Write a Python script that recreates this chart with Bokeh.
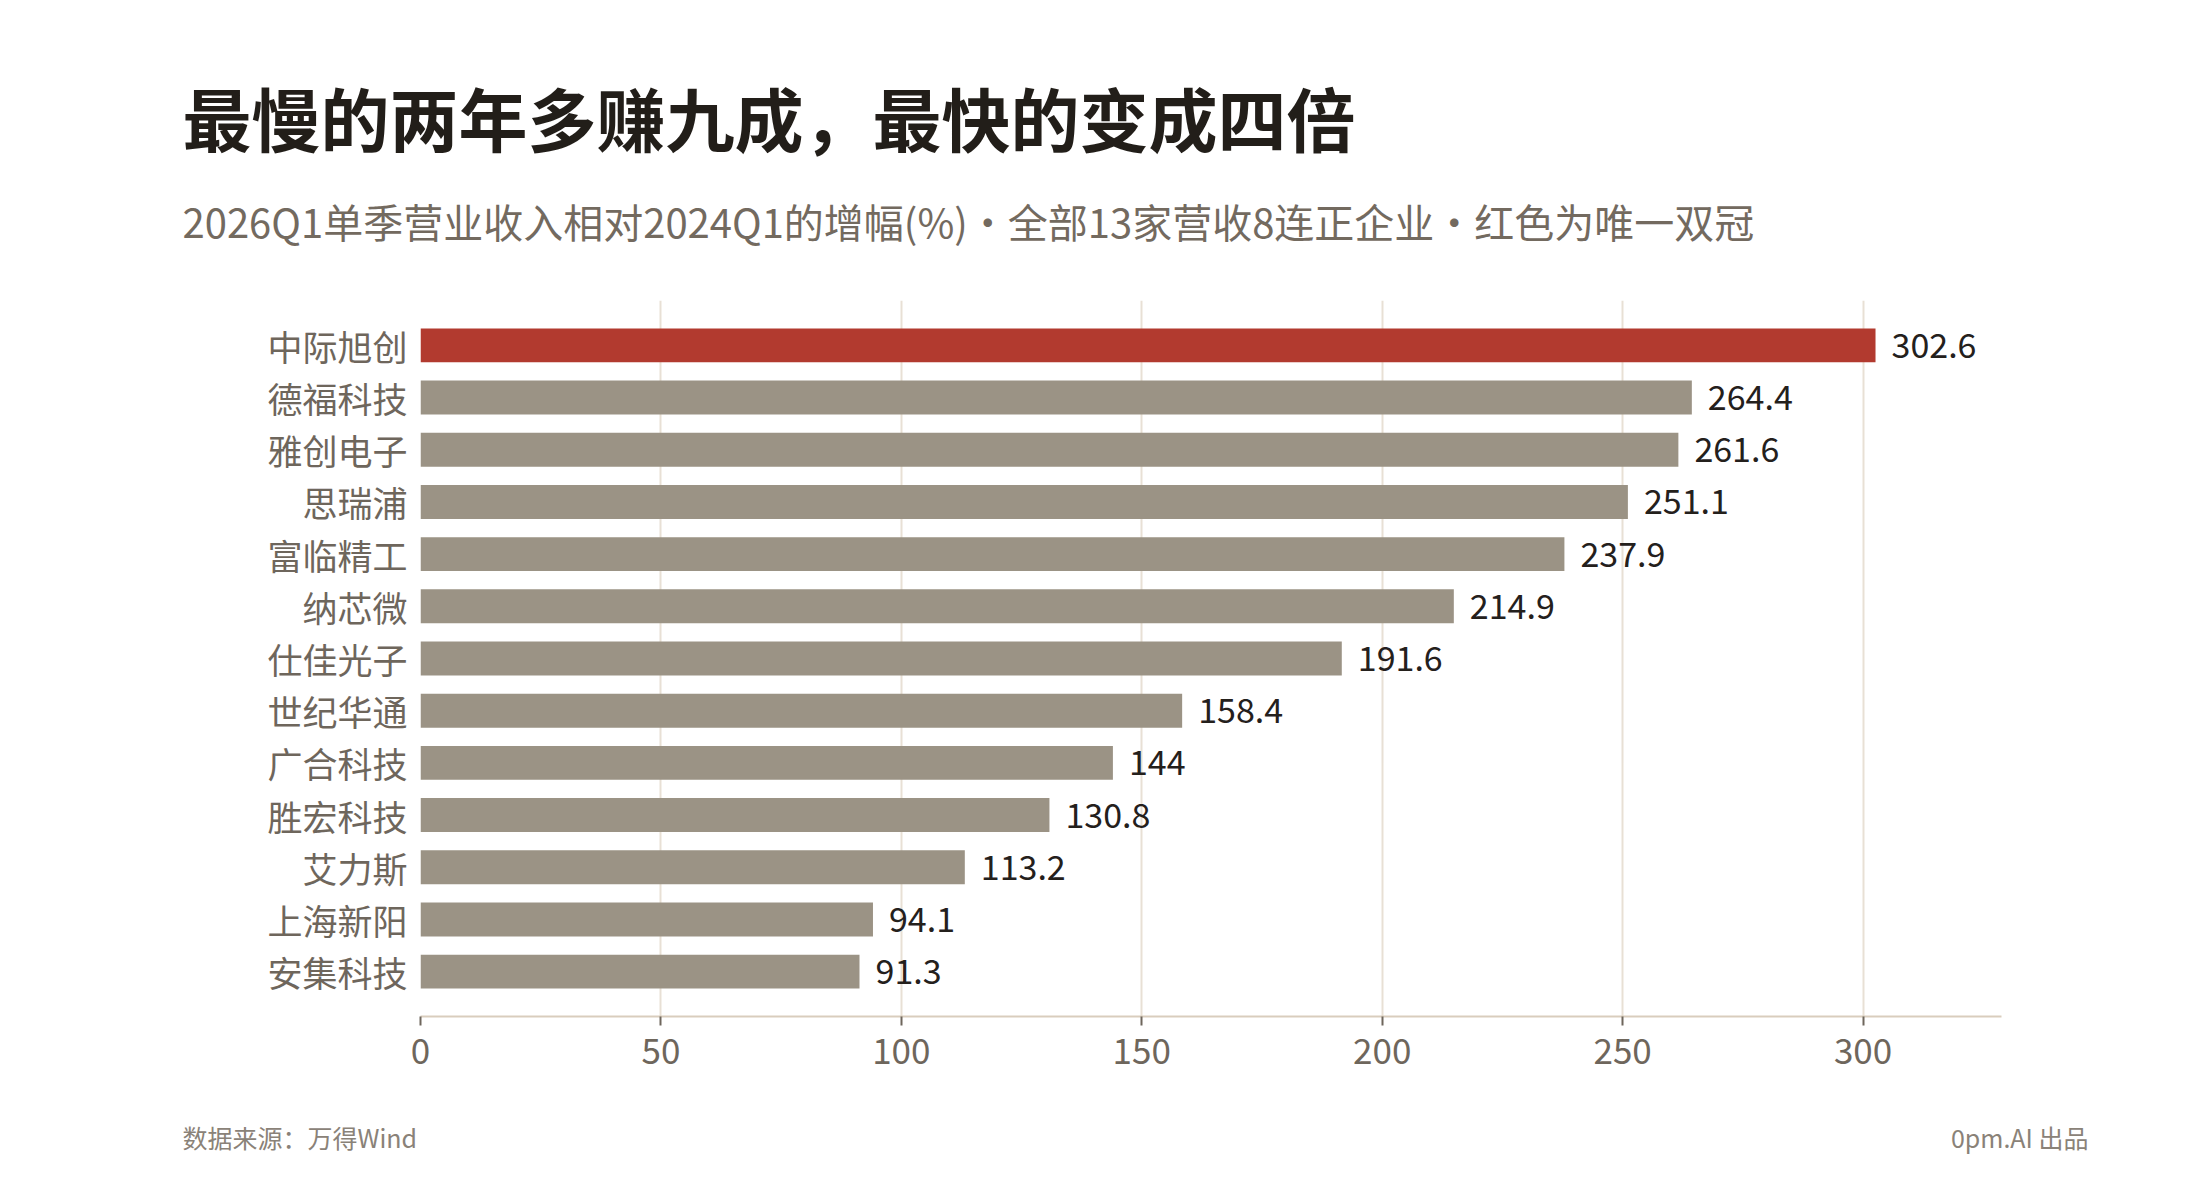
from bokeh.core.properties import value
from bokeh.embed import file_html
from bokeh.layouts import column
from bokeh.models import ColumnDataSource, FactorRange, FixedTicker, Range1d
from bokeh.plotting import figure
from bokeh.resources import INLINE

# data, top to bottom as in the chart
companies = ["中际旭创", "德福科技", "雅创电子", "思瑞浦", "富临精工", "纳芯微", "仕佳光子",
             "世纪华通", "广合科技", "胜宏科技", "艾力斯", "上海新阳", "安集科技"]
growth = [302.6, 264.4, 261.6, 251.1, 237.9, 214.9, 191.6, 158.4, 144, 130.8, 113.2, 94.1, 91.3]
value_labels = ["302.6", "264.4", "261.6", "251.1", "237.9", "214.9", "191.6",
                "158.4", "144", "130.8", "113.2", "94.1", "91.3"]
highlight = ["中际旭创"]
x_ticks = [0, 50, 100, 150, 200, 250, 300]

title_text = "最慢的两年多赚九成，最快的变成四倍"
subtitle_text = "2026Q1单季营业收入相对2024Q1的增幅(%)・全部13家营收8连正企业・红色为唯一双冠"
source_text = "数据来源：万得Wind"
credit_text = "0pm.AI 出品"

FONT = "Noto Sans CJK SC"
RED = "#b23a2f"
GREY = "#9b9385"
W = 2184


def blank(height):
    # full-canvas frame, not aligned with the chart's frame
    f = figure(width=W, height=height, output_backend="svg", toolbar_location=None,
               x_range=Range1d(0, W), y_range=Range1d(0, height),
               x_axis_type=None, y_axis_type=None, frame_align=False,
               min_border_left=0, min_border_right=0, min_border_top=0, min_border_bottom=0)
    f.outline_line_color = None
    f.grid.visible = False
    return f


# header with title and subtitle
header = blank(290)
header.text(x=[182], y=[174], text=[title_text], text_font=value(FONT), text_font_size="69px",
            text_font_style="bold", text_color="#221e19", text_baseline="middle")
header.text(x=[182], y=[70], text=[subtitle_text], text_font=value(FONT), text_font_size="40px",
            text_color="#736a5f", text_baseline="middle")

# main bar chart
source = ColumnDataSource(dict(
    company=companies,
    growth=growth,
    label=value_labels,
    color=[RED if c in highlight else GREY for c in companies],
))

p = figure(width=W, height=806, output_backend="svg", toolbar_location=None,
           x_range=Range1d(0, 328.8),
           y_range=FactorRange(factors=companies[::-1], range_padding=0.36,
                               range_padding_units="absolute"),
           min_border_left=420, min_border_right=183, min_border_top=10, min_border_bottom=80)
p.outline_line_color = None

p.hbar(y="company", right="growth", left=0, height=0.65, source=source,
       fill_color="color", line_color=None)

p.text(x="growth", y="company", text="label", source=source, x_offset=16,
       text_baseline="middle", text_align="left", text_color="#24201c",
       text_font=value(FONT), text_font_size="34px")

p.xaxis.ticker = FixedTicker(ticks=x_ticks)
p.xaxis.axis_line_color = "#d9cdbd"
p.xaxis.axis_line_width = 2
p.xaxis.major_tick_line_color = "#6e665c"
p.xaxis.major_tick_line_width = 2
p.xaxis.major_tick_in = 0
p.xaxis.major_tick_out = 9
p.xaxis.minor_tick_line_color = None
p.xaxis.major_label_standoff = 12
p.xaxis.major_label_text_font = FONT
p.xaxis.major_label_text_font_size = "35px"
p.xaxis.major_label_text_color = "#6e665c"

p.yaxis.axis_line_color = None
p.yaxis.major_tick_line_color = None
p.yaxis.major_tick_in = 0
p.yaxis.major_tick_out = 0
p.yaxis.minor_tick_line_color = None
p.yaxis.major_label_standoff = 13
p.yaxis.major_label_text_font = FONT
p.yaxis.major_label_text_font_size = "35px"
p.yaxis.major_label_text_color = "#6e665c"

p.xgrid.ticker = FixedTicker(ticks=x_ticks)
p.xgrid.grid_line_color = "#e8e0d5"
p.xgrid.grid_line_width = 2
p.ygrid.grid_line_color = None

# footer
footer = blank(88)
footer.text(x=[182], y=[48], text=[source_text], text_font=value(FONT), text_font_size="25px",
            text_color="#8a8278", text_baseline="middle", text_align="left")
footer.text(x=[2088], y=[48], text=[credit_text], text_font=value(FONT), text_font_size="25px",
            text_color="#8a8278", text_baseline="middle", text_align="right")

layout = column(header, p, footer, spacing=0)
open("out.html", "w").write(file_html(layout, INLINE))
